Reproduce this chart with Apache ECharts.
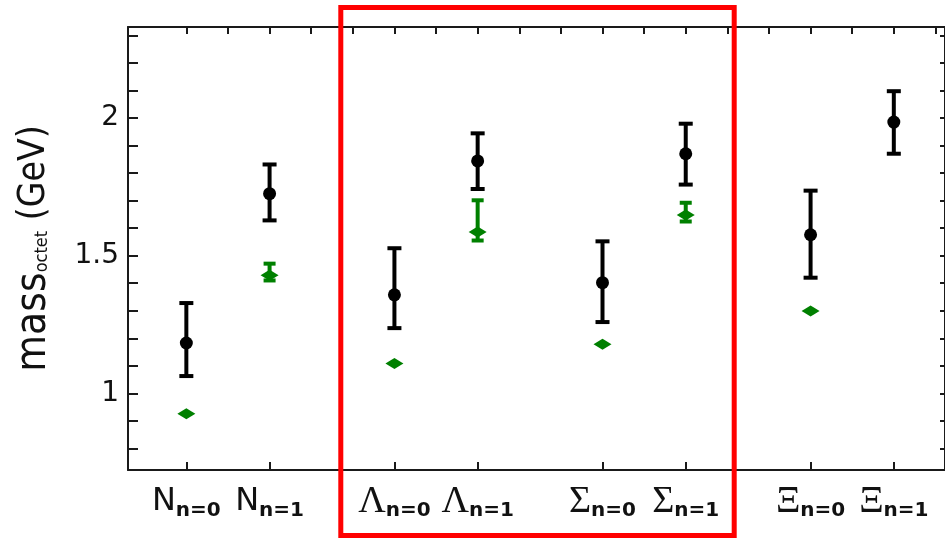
<!DOCTYPE html>
<html><head><meta charset="utf-8">
<script src="https://cdn.jsdelivr.net/npm/echarts@6/dist/echarts.min.js"></script>
<style>html,body{margin:0;padding:0;background:#fff}#c{width:945px;height:538px}</style>
</head><body><div id="c"></div>
<script>
// ---- data ----
const categories = ['N', 'N', 'Λ', 'Λ', 'Σ', 'Σ', 'Ξ', 'Ξ'];
const subscripts = ['n=0', 'n=1', 'n=0', 'n=1', 'n=0', 'n=1', 'n=0', 'n=1'];
const xPositions = [0, 1, 2.5, 3.5, 5, 6, 7.5, 8.5];
const blackMean = [1.183, 1.725, 1.358, 1.844, 1.402, 1.870, 1.576, 1.985];
const blackLow  = [1.063, 1.628, 1.237, 1.742, 1.259, 1.758, 1.420, 1.870];
const blackHigh = [1.328, 1.831, 1.527, 1.944, 1.552, 1.979, 1.736, 2.097];
const greenMean = [0.926, 1.429, 1.109, 1.586, 1.178, 1.648, 1.299, null];
const greenLow  = [null, 1.410, null, 1.555, null, 1.624, null, null];
const greenHigh = [null, 1.471, null, 1.701, null, 1.692, null, null];
const yTickValues = [0.8, 0.9, 1.0, 1.1, 1.2, 1.3, 1.4, 1.5, 1.6, 1.7, 1.8, 1.9, 2.0, 2.1, 2.2, 2.3];
const yLabelValues = [1, 1.5, 2];
const topTickValues = [0, 0.5, 1, 1.5, 2, 2.5, 3, 3.5, 4, 4.5, 5, 5.5, 6, 6.5, 7, 7.5, 8, 8.5, 9];
const greekSet = ['Λ', 'Σ', 'Ξ'];

// ---- build ----
const blackPts = [], blackErr = [], greenPts = [], greenErr = [];
for (let i = 0; i < xPositions.length; i++) {
  blackPts.push([xPositions[i], blackMean[i]]);
  blackErr.push([xPositions[i], blackLow[i], blackHigh[i]]);
  if (greenMean[i] != null) greenPts.push([xPositions[i], greenMean[i]]);
  if (greenLow[i] != null) greenErr.push([xPositions[i], greenLow[i], greenHigh[i]]);
}
function errRender(color, lw, cap) {
  return function (params, api) {
    const x = api.value(0);
    const pLo = api.coord([x, api.value(1)]);
    const pHi = api.coord([x, api.value(2)]);
    const st = { stroke: color, lineWidth: lw, lineCap: 'butt' };
    return { type: 'group', children: [
      { type: 'line', shape: { x1: pLo[0], y1: pLo[1], x2: pHi[0], y2: pHi[1] }, style: st },
      { type: 'line', shape: { x1: pLo[0] - cap / 2, y1: pLo[1], x2: pLo[0] + cap / 2, y2: pLo[1] }, style: st },
      { type: 'line', shape: { x1: pHi[0] - cap / 2, y1: pHi[1], x2: pHi[0] + cap / 2, y2: pHi[1] }, style: st }
    ]};
  };
}
const axisColor = '#1a1a1a';
const chart = echarts.init(document.getElementById('c'), null, { renderer: 'canvas' });
chart.setOption({
  animation: false,
  backgroundColor: '#fff',
  grid: { left: 128, top: 27, width: 818, height: 443, containLabel: false },
  xAxis: [{
    type: 'value', position: 'bottom', min: -0.701, max: 9.115,
    splitLine: { show: false },
    axisLine: { show: true, onZero: false, lineStyle: { color: axisColor, width: 2 } },
    axisTick: { show: true, inside: true, length: 8, customValues: xPositions, lineStyle: { color: axisColor, width: 2 } },
    axisLabel: {
      customValues: xPositions, margin: 14,
      formatter: function (v) {
        let idx = -1;
        for (let i = 0; i < xPositions.length; i++) if (Math.abs(xPositions[i] - v) < 1e-6) idx = i;
        if (idx < 0) return '';
        const key = greekSet.indexOf(categories[idx]) >= 0 ? 'g' : 'm';
        return '{' + key + '|' + categories[idx] + '}{s|' + subscripts[idx] + '}';
      },
      rich: {
        m: { fontFamily: 'DejaVu Sans', fontSize: 32, color: '#111', lineHeight: 36 },
        g: { fontFamily: 'Liberation Serif', fontSize: 38, color: '#111', lineHeight: 36 },
        s: { fontFamily: 'DejaVu Sans', fontSize: 20, fontWeight: 'bold', color: '#111', lineHeight: 36, padding: [18, 0, 0, 0] }
      }
    }
  }, {
    type: 'value', position: 'top', min: -0.701, max: 9.115,
    splitLine: { show: false },
    axisLine: { show: true, onZero: false, lineStyle: { color: axisColor, width: 2 } },
    axisTick: { show: true, inside: true, length: 7, customValues: topTickValues, lineStyle: { color: axisColor, width: 2 } },
    axisLabel: { show: false }
  }],
  yAxis: [{
    type: 'value', position: 'left', min: 0.722, max: 2.33,
    splitLine: { show: false },
    axisLine: { show: true, onZero: false, lineStyle: { color: axisColor, width: 2 } },
    axisTick: { show: true, inside: true, length: 10, customValues: yTickValues, lineStyle: { color: axisColor, width: 2 } },
    axisLabel: { customValues: yLabelValues, margin: 9, fontFamily: 'DejaVu Sans', fontSize: 28, color: '#111',
      formatter: function (v) { return String(v); } },
    name: '{m|mass}{s|octet}{g| (GeV)}',
    nameLocation: 'middle', nameGap: 72, nameRotate: 90,
    nameTextStyle: {
      rich: {
        m: { fontFamily: 'DejaVu Sans Condensed', fontSize: 42, color: '#111', lineHeight: 44 },
        s: { fontFamily: 'DejaVu Sans Condensed', fontSize: 18, color: '#111', lineHeight: 44, padding: [16, 0, 0, 0] },
        g: { fontFamily: 'DejaVu Sans Condensed', fontSize: 37, color: '#111', lineHeight: 44 }
      }
    }
  }, {
    type: 'value', position: 'right', min: 0.722, max: 2.33,
    splitLine: { show: false },
    axisLine: { show: true, onZero: false, lineStyle: { color: axisColor, width: 2 } },
    axisTick: { show: true, inside: true, length: 5, customValues: yTickValues, lineStyle: { color: axisColor, width: 2 } },
    axisLabel: { show: false }
  }],
  series: [
    { type: 'custom', name: 'black-err', xAxisIndex: 0, yAxisIndex: 0, renderItem: errRender('#000', 4, 14), data: blackErr, z: 2 },
    { type: 'custom', name: 'green-err', xAxisIndex: 0, yAxisIndex: 0, renderItem: errRender('#008000', 4, 12), data: greenErr, z: 2 },
    { type: 'scatter', name: 'black', symbol: 'circle', symbolSize: 13, itemStyle: { color: '#000', opacity: 1 }, data: blackPts, z: 3 },
    { type: 'scatter', name: 'green', symbol: 'diamond', symbolSize: [18, 11], itemStyle: { color: '#008000', opacity: 1 }, data: greenPts, z: 3 }
  ],
  graphic: [{
    type: 'rect', z: 100, silent: true,
    shape: { x: 340.8, y: 7.5, width: 393.4, height: 528 },
    style: { fill: 'none', stroke: '#ff0000', lineWidth: 5 }
  }]
});
</script>
</body></html>
